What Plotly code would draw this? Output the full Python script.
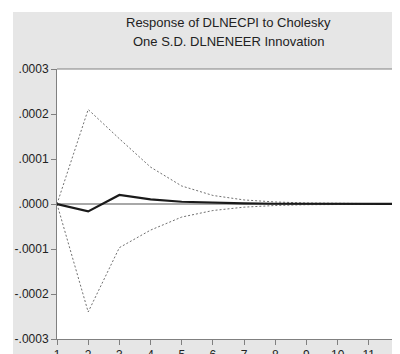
import plotly.graph_objects as go

periods = list(range(1, 13))
response = [0.0, -0.0000165, 0.00002, 0.0000104, 0.000005, 0.0000025, 0.0000012, 0.0000006, 0.0000003, 0.00000015, 0.0000001, 0.00000005]
upper = [0.0, 0.00021, 0.000145, 0.000082, 0.00004, 0.000019, 0.000009, 0.0000045, 0.0000022, 0.0000011, 0.0000006, 0.0000003]
lower = [0.0, -0.00024, -0.000097, -0.000058, -0.000029, -0.0000145, -0.000007, -0.0000033, -0.0000016, -0.0000008, -0.0000004, -0.0000002]

ytickvals = [0.0003, 0.0002, 0.0001, 0.0, -0.0001, -0.0002, -0.0003]
yticktext = [".0003", ".0002", ".0001", ".0000", "-.0001", "-.0002", "-.0003"]
title_lines = ["Response of DLNECPI to Cholesky", "One S.D. DLNENEER Innovation"]

BG = "#e6e6e6"
font_family = "Liberation Sans, Arial, sans-serif"

fig = go.Figure()
fig.add_trace(go.Scatter(x=periods, y=upper, mode="lines",
                         line=dict(color="#707070", width=1, dash="2px,2px"), hoverinfo="skip"))
fig.add_trace(go.Scatter(x=periods, y=lower, mode="lines",
                         line=dict(color="#707070", width=1, dash="2px,2px"), hoverinfo="skip"))
fig.add_trace(go.Scatter(x=periods, y=response, mode="lines",
                         line=dict(color="#1a1a1a", width=2.2)))

fig.update_layout(
    width=392, height=346,
    margin=dict(l=49, r=0, t=61, b=15, autoexpand=False),
    paper_bgcolor=BG, plot_bgcolor="white",
    showlegend=False,
    font=dict(family=font_family, size=12, color="#222222"),
    xaxis=dict(range=[1, 12], tickvals=periods, ticks="outside", ticklen=5,
               tickcolor="#808080", showline=True, linecolor="#808080", linewidth=1,
               mirror=False, showgrid=False, zeroline=False, automargin=False,
               ticklabeloverflow="allow",
               tickfont=dict(size=12, color="#222222")),
    yaxis=dict(range=[-0.0003, 0.0003], tickvals=ytickvals, ticktext=yticktext,
               ticks="outside", ticklen=5, tickcolor="#808080", automargin=False,
               showline=True, linecolor="#808080", linewidth=1, mirror=False,
               showgrid=False, zeroline=True, zerolinecolor="#a8a8a8", zerolinewidth=2,
               tickfont=dict(size=12, color="#222222")),
    shapes=[
        dict(type="rect", xref="paper", yref="paper", x0=-0.3, x1=-0.1283, y0=-0.3, y1=1.4,
             fillcolor="white", line=dict(width=0), layer="above"),
        dict(type="rect", xref="paper", yref="paper", x0=-0.3, x1=1.2, y0=1.2111, y1=1.4,
             fillcolor="white", line=dict(width=0), layer="above"),
        dict(type="line", xref="paper", yref="paper", x0=0, x1=1, y0=1, y1=1,
             line=dict(color="#808080", width=1)),
    ],
    annotations=[
        dict(text=title_lines[0], xref="paper", yref="paper", x=0.5, y=1.1704,
             showarrow=False, xanchor="center", yanchor="middle",
             font=dict(size=13, color="#222222")),
        dict(text=title_lines[1], xref="paper", yref="paper", x=0.5, y=1.1,
             showarrow=False, xanchor="center", yanchor="middle",
             font=dict(size=13, color="#222222")),
    ],
)

fig.write_html("out.html")
